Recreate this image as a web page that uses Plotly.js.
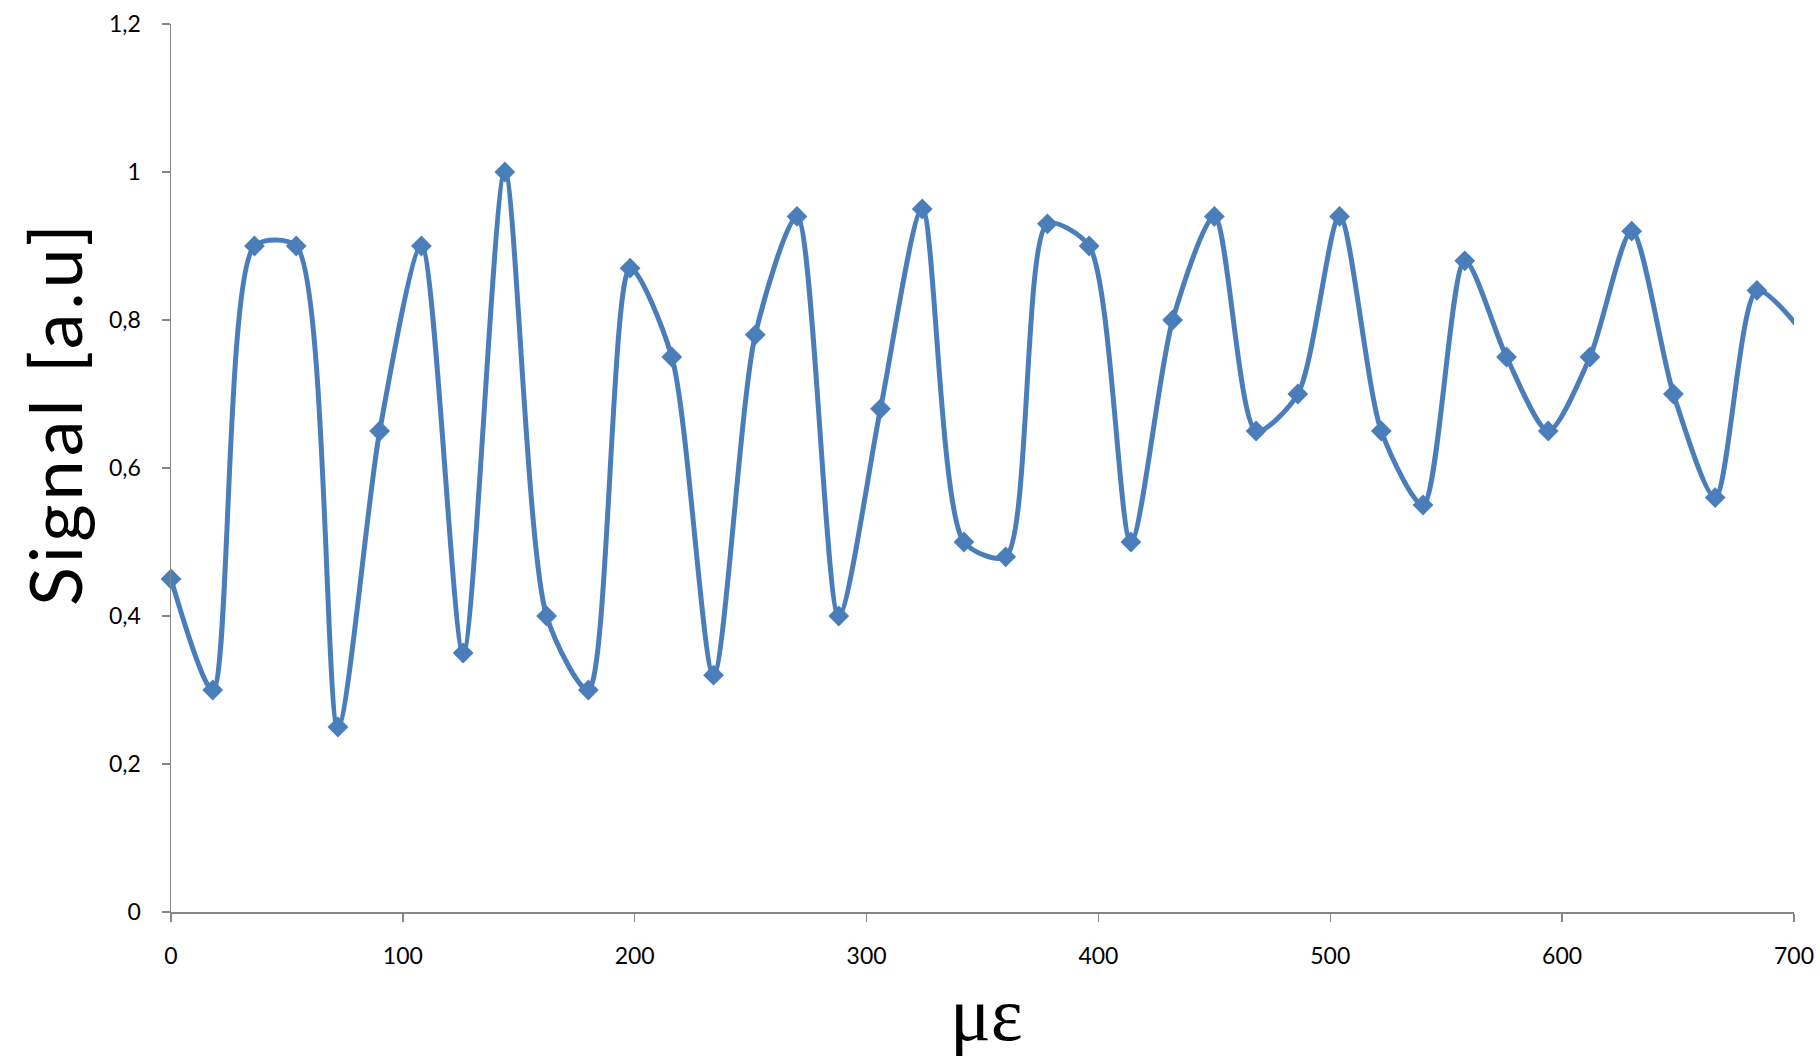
<!DOCTYPE html>
<html>
<head>
<meta charset="utf-8">
<script src="https://cdn.plot.ly/plotly-3.0.1.min.js"></script>
<style>
html, body { margin: 0; padding: 0; background: #ffffff; }
#chart { width: 1820px; height: 1057px; }
g.annotation[data-index="0"] text { letter-spacing: 4px; }
</style>
</head>
<body>
<div id="chart"></div>
<script>
// Strain (micro-strain) values
const strain = [0, 18, 36, 54, 72, 90, 108, 126, 144, 162, 180, 198, 216, 234, 252, 270, 288, 306, 324, 342,
                360, 378, 396, 414, 432, 450, 468, 486, 504, 522, 540, 558, 576, 594, 612, 630, 648, 666, 684, 702];
// Signal values [a.u]
const signal = [0.45, 0.30, 0.90, 0.90, 0.25, 0.65, 0.90, 0.35, 1.00, 0.40, 0.30, 0.87, 0.75, 0.32, 0.78, 0.94, 0.40, 0.68, 0.95, 0.50,
                0.48, 0.93, 0.90, 0.50, 0.80, 0.94, 0.65, 0.70, 0.94, 0.65, 0.55, 0.88, 0.75, 0.65, 0.75, 0.92, 0.70, 0.56, 0.84, 0.79];
// Tick values
const xTicks = [0, 100, 200, 300, 400, 500, 600, 700];
const yTicks = [0, 0.2, 0.4, 0.6, 0.8, 1, 1.2];
const xTitle = "με";
const yTitle = "Signal [a.u]";

// Markers shown only for points inside the visible x range
const xMax = 700;
const visX = strain.filter(v => v <= xMax);
const visY = signal.slice(0, visX.length);

const color = "#4a7ebb";
const axisColor = "#868686";

const traces = [
  {
    x: strain, y: signal, type: "scatter", mode: "lines",
    line: { color: color, width: 5, shape: "spline", smoothing: 0.75 },
    hoverinfo: "skip", showlegend: false
  },
  {
    x: visX, y: visY, type: "scatter", mode: "markers",
    marker: { symbol: "diamond", size: 16, color: color },
    cliponaxis: false, showlegend: false
  }
];

const tickFont = { family: "Lato, 'Open Sans', sans-serif", size: 23, color: "#000000" };

const layout = {
  width: 1820, height: 1057,
  paper_bgcolor: "#ffffff", plot_bgcolor: "#ffffff",
  separators: ", ",
  margin: { l: 170.6, r: 25.5, t: 23.5, b: 144.7, pad: 0 },
  showlegend: false,
  xaxis: {
    range: [0, 700], tickvals: xTicks, showgrid: false, zeroline: false,
    showline: true, linecolor: axisColor, linewidth: 1.5,
    ticks: "outside", ticklen: 8, tickwidth: 1.5, tickcolor: axisColor,
    tickfont: tickFont, ticklabelstandoff: 15,
    title: { text: "" }
  },
  yaxis: {
    range: [0, 1.2], tickvals: yTicks, showgrid: false, zeroline: false,
    showline: true, linecolor: axisColor, linewidth: 1.5,
    ticks: "outside", ticklen: 8, tickwidth: 1.5, tickcolor: axisColor,
    tickfont: tickFont, ticklabelstandoff: 16,
    title: { text: "" }
  },
  annotations: [
    {
      text: yTitle, xref: "paper", yref: "paper", x: -0.0718, y: 0.5626,
      xanchor: "center", yanchor: "middle", textangle: -90, showarrow: false,
      font: { family: "Lato, 'Open Sans', sans-serif", size: 72, color: "#000000" }
    },
    {
      text: xTitle, xref: "paper", yref: "paper", x: 0.5025, y: -0.115,
      xanchor: "center", yanchor: "middle", showarrow: false,
      font: { family: "'Liberation Serif', 'DejaVu Serif', serif", size: 76, color: "#000000" }
    }
  ]
};

Plotly.newPlot("chart", traces, layout, { displayModeBar: false, staticPlot: true });
</script>
</body>
</html>
